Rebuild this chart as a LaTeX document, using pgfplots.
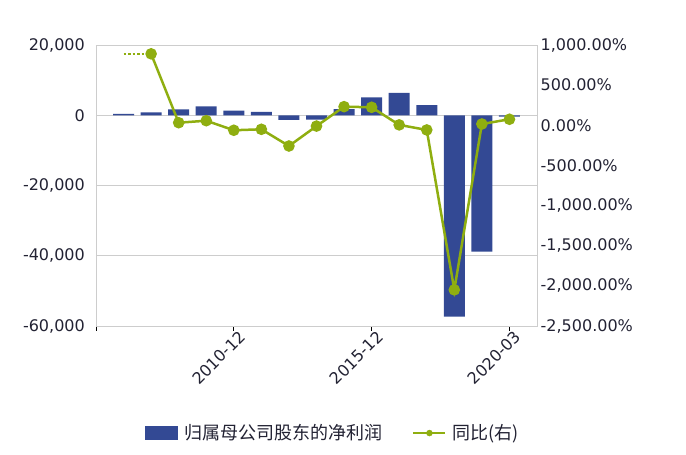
\documentclass[border=0pt]{standalone}
\usepackage{pgfplots}
\pgfplotsset{compat=1.18}
\usepackage{fontspec}
\setmainfont{DejaVu Sans}
\newfontfamily\cjk{Noto Sans CJK SC}
\definecolor{barblue}{RGB}{51,73,148}
\definecolor{lgreen}{RGB}{143,174,16}
\definecolor{txt}{RGB}{34,34,51}
\definecolor{gridc}{RGB}{205,205,205}
\begin{document}
\begin{tikzpicture}[x=1pt,y=1pt]
\begin{axis}[
  at={(96pt,129pt)}, anchor=south west,
  scale only axis, width=441pt, height=281pt,
  xmin=0, xmax=16, ymin=-60000, ymax=20000,
  clip=false,
  axis line style={draw=none},
  scaled y ticks=false,
  ytick={-60000,-40000,-20000,0,20000},
  ymajorgrids, grid style={gridc, line width=0.9pt},
  ytick style={draw=none},
  /pgf/number format/1000 sep={,},
  /pgf/number format/assume math mode=true,
  y tick label style={font=\fontsize{16}{19}\selectfont, text=txt, anchor=east, inner sep=0pt, xshift=-6pt},
  xtick={0,5,10,15}, xticklabels={,2010-12,2015-12,2020-03},
  xtick pos=lower,
  tick align=outside, major tick length=5pt,
  xtick style={draw=black, line width=0.9pt},
  x tick label style={font=\fontsize{16}{19}\selectfont, text=txt, rotate=45, anchor=north east, inner sep=0pt, xshift=4pt, yshift=-2pt},
  ybar, bar width=21pt,
]
\addplot[fill=barblue, draw=none] coordinates {
 (1,400) (2,850) (3,1700) (4,2550) (5,1300) (6,950) (7,-1350) (8,-1250)
 (9,1750) (10,5100) (11,6400) (12,2900) (13,-57300) (14,-38800) (15,-400)};
\draw[gridc, line width=0.9pt] (rel axis cs:0,0) rectangle (rel axis cs:1,1);
\end{axis}
\begin{axis}[
  at={(96pt,129pt)}, anchor=south west,
  scale only axis, width=441pt, height=281pt,
  xmin=0, xmax=16, ymin=-2500, ymax=1000,
  axis y line*=right, axis x line=none,
  y axis line style={draw=none},
  scaled y ticks=false,
  ytick={-2500,-2000,-1500,-1000,-500,0,500,1000},
  ytick style={draw=none},
  yticklabel={\pgfmathprintnumber[fixed,fixed zerofill,precision=2,1000 sep={,},assume math mode=true]{\tick}\%},
  y tick label style={font=\fontsize{16}{19}\selectfont, text=txt, anchor=west, inner sep=0pt, xshift=3.5pt},
  legend style={at={(0.537,-0.381)}, anchor=center, draw=none, fill=none,
    font=\cjk\fontsize{18}{21}\selectfont, text=txt,
    /tikz/every even column/.append style={column sep=28pt}},
  legend columns=2,
]
\addlegendimage{legend image code/.code={\fill[barblue] (0pt,-6.5pt) rectangle (32pt,6.5pt); \path[draw=none,fill=none] (0pt,0pt) -- (37pt,0pt);}}
\addlegendentry{归属母公司股东的净利润}
\addlegendimage{legend image code/.code={\draw[lgreen,line width=2.5pt] (0pt,0pt)--(32pt,0pt); \fill[lgreen] (16pt,0pt) circle (3pt); \path[draw=none,fill=none] (0pt,0pt) -- (37pt,0pt);}}
\addlegendentry{同比(右)}
\addplot[lgreen, line width=2.5pt, dotted, forget plot] coordinates {(1,890) (2,890)};
\addplot[lgreen, line width=2.5pt, mark=*, mark size=4.5pt, mark options={solid, fill=lgreen, draw=none}, forget plot] coordinates {
 (2,890) (3,32) (4,57) (5,-62) (6,-50) (7,-258) (8,-10) (9,232) (10,224)
 (11,5) (12,-58) (13,-2050) (14,16) (15,75)};
\end{axis}
\pgfresetboundingbox
\path[use as bounding box] (0,0) rectangle (686pt,455pt);
\end{tikzpicture}
\end{document}
